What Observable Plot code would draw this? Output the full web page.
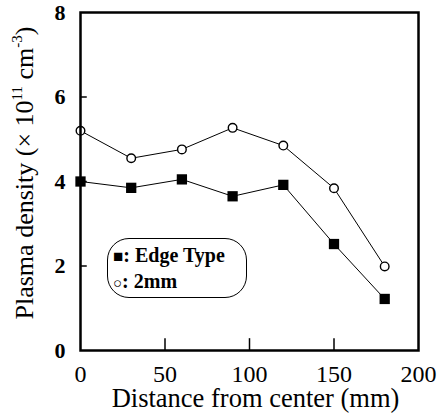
<!DOCTYPE html>
<html><head><meta charset="utf-8">
<script src="https://cdn.jsdelivr.net/npm/d3@7"></script>
<script src="https://cdn.jsdelivr.net/npm/@observablehq/plot@0.6"></script>
</head>
<body style="margin:0;font-family:'Liberation Serif'">
<div id="c" style="position:relative;width:440px;height:414px"></div>
<script>
const distance = [0, 30, 60, 90, 120, 150, 180];
const edgeType = [4.0, 3.85, 4.05, 3.65, 3.92, 2.52, 1.22];
const mm2 = [5.2, 4.55, 4.76, 5.27, 4.85, 3.84, 1.99];
const xTicks = [0, 50, 100, 150, 200];
const yTicks = [0, 2, 4, 6, 8];
const legendLabels = ["Edge Type", "2mm"];

const edge = distance.map((d, i) => ({x: d, y: edgeType[i]}));
const two = distance.map((d, i) => ({x: d, y: mm2[i]}));

const plot = Plot.plot({
  width: 440, height: 414,
  marginLeft: 80, marginRight: 22, marginTop: 12, marginBottom: 64,
  style: {fontFamily: "Liberation Serif", background: "white"},
  x: {domain: [0, 200], axis: null},
  y: {domain: [0, 8], axis: null},
  marks: [
    Plot.line(two, {x: "x", y: "y", stroke: "#000", strokeWidth: 1}),
    Plot.line(edge, {x: "x", y: "y", stroke: "#000", strokeWidth: 1}),
    Plot.dot(two, {x: "x", y: "y", r: 4.3, fill: "#fff", stroke: "#000", strokeWidth: 1.4}),
    Plot.dot(edge, {x: "x", y: "y", symbol: "square", r: 5.8, fill: "#000"}),
    Plot.ruleX([50, 100, 150], {x: d => d, y1: 0, y2: 0.28, stroke: "#000", strokeWidth: 1.5}),
    Plot.ruleY([2, 4, 6], {y: d => d, x1: 0, x2: 4, stroke: "#000", strokeWidth: 1.5}),
    Plot.frame({stroke: "#000", strokeWidth: 2.5}),
    Plot.text(yTicks, {x: 0, y: d => d, text: d => String(d), dx: -15, textAnchor: "end", fontSize: 22, fontWeight: "bold", fill: "#000"}),
    Plot.text(xTicks, {x: d => d, y: 0, text: d => String(d), dy: 24, fontSize: 24, fill: "#000"}),
    Plot.text(["Distance from center (mm)"], {x: 100, y: 0, text: d => d, dy: 48, dx: 6, fontSize: 26.5, fill: "#000"})
  ]
});
document.getElementById("c").append(plot);

// rotated y-axis title with superscripts
const svg = d3.select(plot);
const t = svg.append("text")
  .attr("transform", "translate(33,173) rotate(-90)")
  .attr("text-anchor", "middle")
  .attr("font-size", 26)
  .attr("fill", "#000");
t.append("tspan").text("Plasma density (\u00d7 10");
t.append("tspan").attr("font-size", 15).attr("dy", -11).text("11");
t.append("tspan").attr("dy", 11).text(" cm");
t.append("tspan").attr("font-size", 15).attr("dy", -11).text("-3");
t.append("tspan").attr("dy", 11).text(")");

// legend box
const lg = document.createElement("div");
lg.style.cssText = "position:absolute;left:107px;top:238px;width:140px;height:60px;border:1.3px solid #000;border-radius:22px;box-sizing:border-box;font-family:'Liberation Serif';font-size:20px;font-weight:bold;line-height:25px;padding:4px 0 0 5px;background:transparent";
lg.innerHTML = `<div><span style="font-size:17px">\u25A0</span>: ${legendLabels[0]}</div><div><span style="font-size:15px;font-weight:normal">\u25CB</span>: ${legendLabels[1]}</div>`;
document.getElementById("c").append(lg);
</script></body></html>
